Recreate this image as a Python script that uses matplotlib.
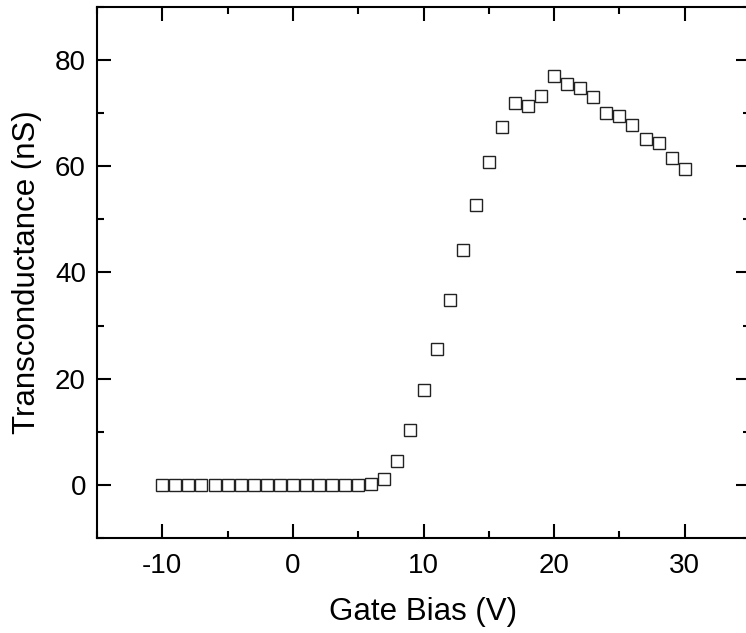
import matplotlib
matplotlib.use("Agg")
import matplotlib.pyplot as plt
from matplotlib.ticker import MultipleLocator

plt.rcParams['font.family'] = ['Liberation Sans', 'DejaVu Sans']
plt.rcParams['axes.unicode_minus'] = False

# gate bias (V) and transconductance (nS)
gate_bias = list(range(-10, 31))
transconductance = [0.0] * 16 + [0.1, 1.2, 4.5, 10.3, 17.8, 25.6, 34.8, 44.2, 52.7, 60.8,
                                 67.4, 72.0, 71.3, 73.3, 77.0, 75.5, 74.7, 73.0, 70.0,
                                 69.5, 67.8, 65.2, 64.3, 61.5, 59.5]

fig = plt.figure(figsize=(7.46, 6.33), dpi=100)
# right spine falls just outside the picture, like the reference
ax = fig.add_axes([97 / 746, 95 / 633, 653 / 746, 531 / 633])

ax.plot(gate_bias, transconductance, linestyle='none', marker='s', markersize=8,
        markerfacecolor='white', markeredgecolor='#222222', markeredgewidth=1.0)

ax.set_xlim(-15, 35)
ax.set_ylim(-10, 90)
ax.xaxis.set_major_locator(MultipleLocator(10))
ax.xaxis.set_minor_locator(MultipleLocator(5))
ax.yaxis.set_major_locator(MultipleLocator(20))
ax.yaxis.set_minor_locator(MultipleLocator(10))
ax.tick_params(which='both', direction='in', top=True, right=True, width=1.5,
               labelsize=20)
ax.tick_params(axis='x', which='both', pad=11)
ax.tick_params(axis='y', which='both', pad=8)
ax.tick_params(which='major', length=10)
ax.tick_params(which='minor', length=5)
for s in ax.spines.values():
    s.set_linewidth(1.5)

ax.set_xlabel("Gate Bias (V)", fontsize=22.5, labelpad=13)
ax.set_ylabel("Transconductance (nS)", fontsize=22.5, labelpad=9)

fig.savefig("out.png", dpi=100)
